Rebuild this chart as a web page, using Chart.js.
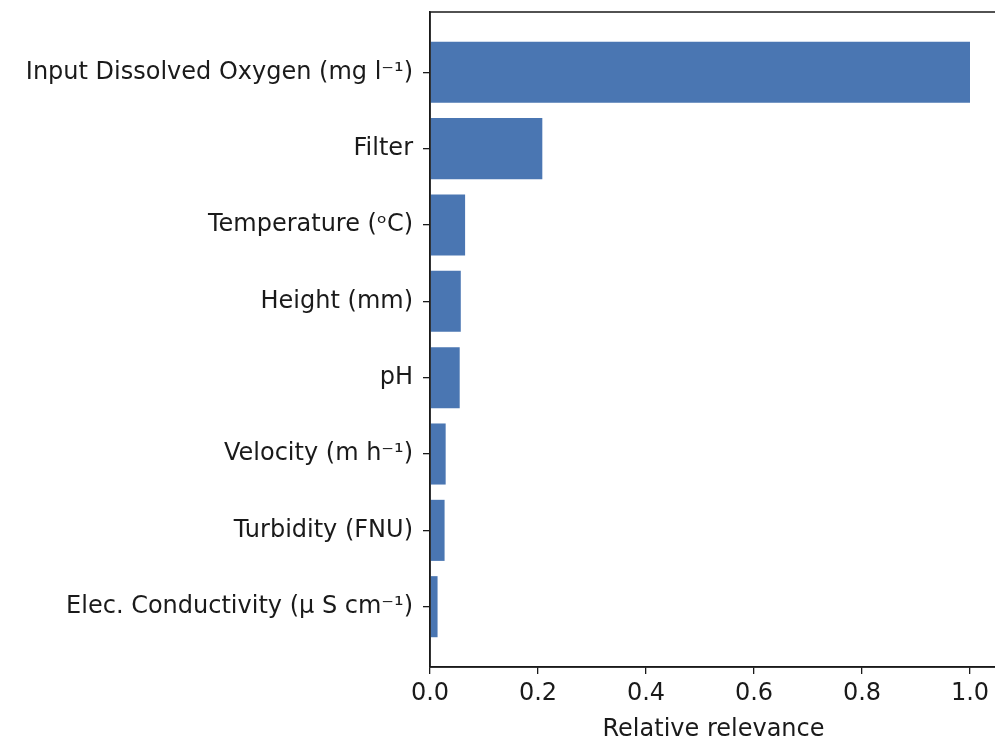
<!DOCTYPE html>
<html>
<head>
<meta charset="utf-8">
<script src="https://cdn.jsdelivr.net/npm/chart.js@4/dist/chart.umd.min.js"></script>
<style>
  html, body { margin: 0; padding: 0; background: #fff; overflow: hidden; }
  #wrap { width: 1000px; height: 744px; }
</style>
</head>
<body>
<div id="wrap"><canvas id="relChart" width="1000" height="744"></canvas></div>
<script>
// 변수 이름 (위에서 아래 순서)
const categories = [
  'Input Dissolved Oxygen (mg l\u207B\u00B9)',
  'Filter',
  'Temperature (\u1D52C)',
  'Height (mm)',
  'pH',
  'Velocity (m h\u207B\u00B9)',
  'Turbidity (FNU)',
  'Elec. Conductivity (\u03BC S cm\u207B\u00B9)'
];
const relevance = [1.0, 0.208, 0.065, 0.057, 0.055, 0.029, 0.027, 0.014];
const xTicks = [0.0, 0.2, 0.4, 0.6, 0.8, 1.0];

const ink = '#1a1a1a';
const font = { family: 'DejaVu Sans', size: 24 };

// 축 상자 (위/오른쪽 테두리)
const frame = {
  id: 'frame',
  afterDraw(chart) {
    const { ctx, chartArea: a } = chart;
    ctx.save();
    ctx.strokeStyle = ink;
    ctx.lineWidth = 1.5;
    ctx.strokeRect(a.left, a.top, a.right - a.left, a.bottom - a.top);
    ctx.restore();
  }
};

const ctx = document.getElementById('relChart').getContext('2d');
new Chart(ctx, {
  type: 'bar',
  data: {
    datasets: [{
      data: relevance.map((v, i) => ({ x: v, y: i })),
      backgroundColor: '#4a76b2',
      barPercentage: 0.8,
      categoryPercentage: 1.0
    }]
  },
  options: {
    indexAxis: 'y',
    responsive: false,
    animation: false,
    layout: { padding: { top: 12, right: 3, left: 0, bottom: 0 } },
    plugins: { legend: { display: false }, tooltip: { enabled: false } },
    scales: {
      y: {
        type: 'linear',
        reverse: true,
        offset: false,
        min: -0.79,
        max: 7.79,
        afterBuildTicks: (scale) => { scale.ticks = categories.map((_, i) => ({ value: i })); },
        afterFit: (scale) => { scale.width = 430; scale.paddingTop = 0; scale.paddingBottom = 0; },
        ticks: {
          color: ink, font: font, padding: 10,
          callback: (v) => categories[v]
        },
        grid: { offset: false, drawOnChartArea: false, drawTicks: true, tickLength: 7, color: ink, lineWidth: 1.3 },
        border: { display: true, color: ink, width: 1.5 }
      },
      x: {
        type: 'linear',
        min: 0,
        max: 1.05,
        afterBuildTicks: (scale) => { scale.ticks = xTicks.map(v => ({ value: v })); },
        afterFit: (scale) => { scale.height = 77; },
        ticks: {
          color: ink, font: font, padding: 5,
          callback: (v) => Number(v).toFixed(1)
        },
        grid: { drawOnChartArea: false, drawTicks: true, tickLength: 7, color: ink, lineWidth: 1.3 },
        border: { display: true, color: ink, width: 1.5 },
        title: { display: true, text: 'Relative relevance', color: ink, font: font, padding: { top: 0, bottom: 0 } }
      }
    }
  },
  plugins: [frame]
});
</script>
</body>
</html>
